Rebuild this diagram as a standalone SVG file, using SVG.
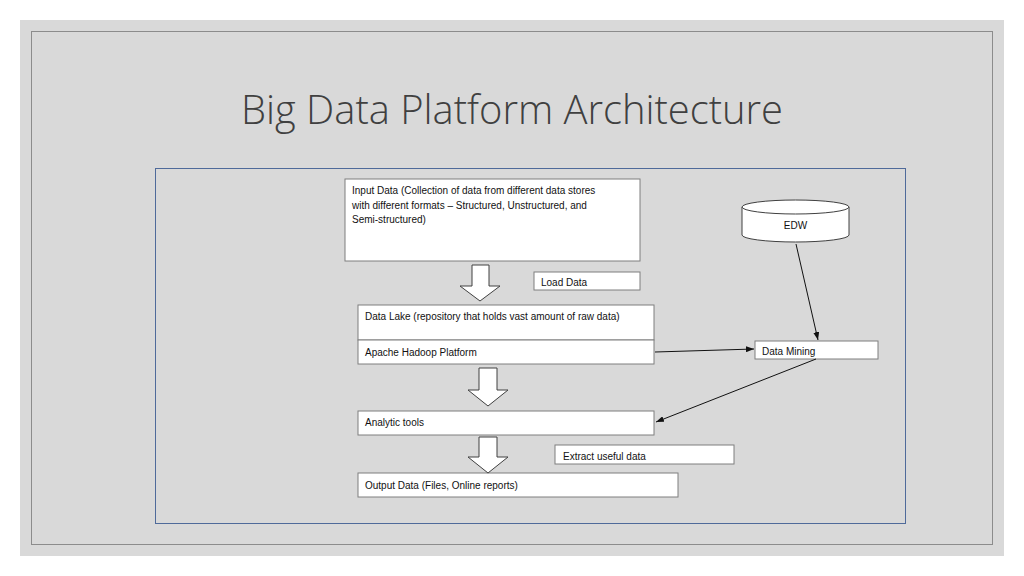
<svg xmlns="http://www.w3.org/2000/svg" width="1024" height="576" viewBox="0 0 1024 576">
<style>
.b{fill:#fff;stroke:#7f7f7f;stroke-width:1}
.t{font-family:"Liberation Sans",Arial,sans-serif;font-size:10px;fill:#111}
.ba{fill:#fff;stroke:#404040;stroke-width:1}
.c{stroke:#111;stroke-width:1;fill:none;marker-end:url(#ah)}
</style>
<defs><marker id="ah" markerWidth="8" markerHeight="6" refX="8" refY="3" orient="auto" markerUnits="userSpaceOnUse"><path d="M0,0L8,3L0,6z" fill="#111"/></marker></defs>
<rect width="1024" height="576" fill="#fff"/>
<rect x="20" y="20" width="984" height="536" fill="#d9d9d9"/>
<rect x="31.5" y="31.5" width="961" height="513" fill="none" stroke="#8c8c8c"/>
<text x="512" y="124" text-anchor="middle" font-family="'Open Sans',sans-serif" font-weight="300" font-size="40" fill="#404040" textLength="542" lengthAdjust="spacingAndGlyphs">Big Data Platform Architecture</text>
<rect x="155.5" y="168.5" width="750" height="355" fill="none" stroke="#4f6a9a"/>
<g id="input"><rect class="b" x="345" y="179" width="295" height="82"/><text class="t" x="352" y="194">Input Data (Collection of data from different data stores</text><text class="t" x="352" y="209">with different formats – Structured, Unstructured, and</text><text class="t" x="352" y="223">Semi-structured)</text></g>
<g id="load"><rect class="b" x="534" y="272" width="106" height="18"/><text class="t" x="541" y="286">Load Data</text></g>
<g id="lake"><rect class="b" x="358" y="305" width="296" height="35"/><text class="t" x="365" y="320">Data Lake (repository that holds vast amount of raw data)</text></g>
<g id="hadoop"><rect class="b" x="358" y="340" width="296" height="24"/><text class="t" x="365" y="356">Apache Hadoop Platform</text></g>
<g id="mining"><rect class="b" x="755" y="341" width="123" height="18"/><text class="t" x="762" y="355">Data Mining</text></g>
<g id="edw"><path d="M742,207 V235 A53.5,7 0 0 0 849,235 V207" fill="#fff" stroke="#404040"/><ellipse cx="795.5" cy="207" rx="53.5" ry="7" fill="#fff" stroke="#404040"/><text class="t" x="795.5" y="229" text-anchor="middle">EDW</text></g>
<g id="analytic"><rect class="b" x="358" y="411" width="296" height="24"/><text class="t" x="365" y="426">Analytic tools</text></g>
<g id="extract"><rect class="b" x="555" y="445" width="179" height="19"/><text class="t" x="563" y="460">Extract useful data</text></g>
<g id="output"><rect class="b" x="358" y="473" width="320" height="24"/><text class="t" x="365" y="489">Output Data (Files, Online reports)</text></g>
<g id="connectors">
<path class="ba" d="M472,265H489V286H500L480,301L460,286H472Z"/>
<path class="ba" d="M479,368H497V390H508L488,406L468,390H479Z"/>
<path class="ba" d="M479,437H497V457H508L488,473L468,457H479Z"/>
<line class="c" x1="655" y1="352" x2="754" y2="349"/>
<line class="c" x1="796" y1="244" x2="818" y2="340"/>
<line class="c" x1="816" y1="359" x2="656" y2="422"/>
</g>
</svg>
